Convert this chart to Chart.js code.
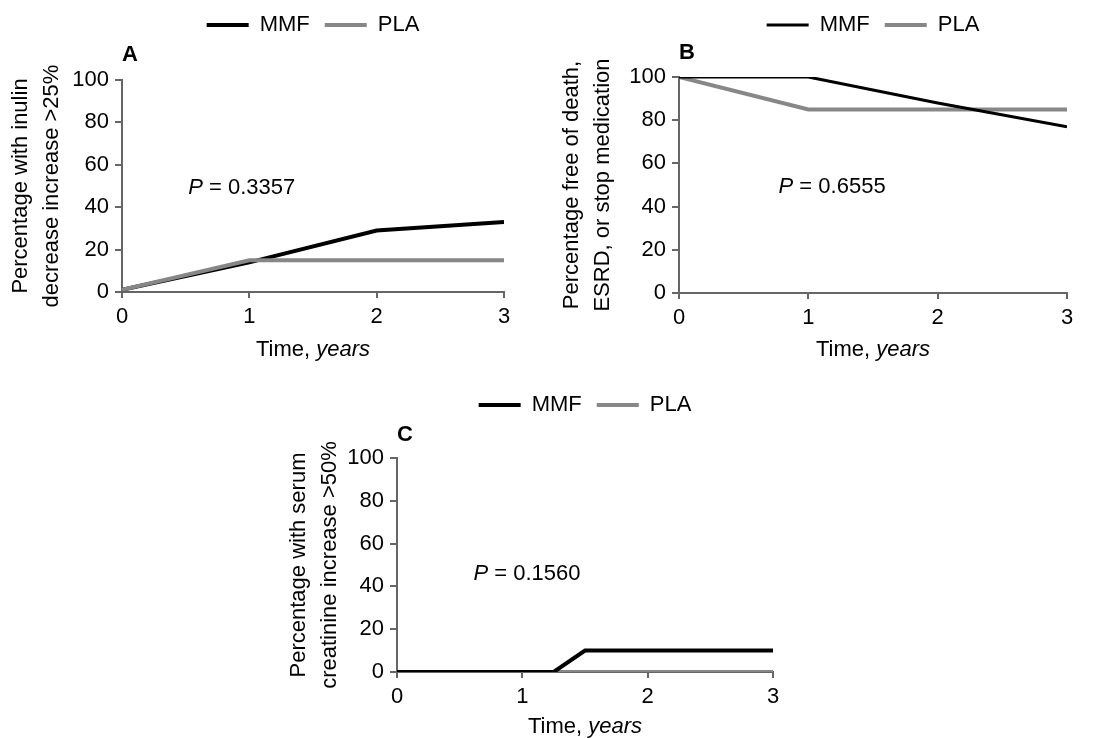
<!DOCTYPE html>
<html>
<head>
<meta charset="utf-8">
<script src="https://cdn.jsdelivr.net/npm/chart.js@4"></script>
<style>
  body { margin: 0; background: #fff; width: 1095px; height: 738px; overflow: hidden; position: relative; }
  canvas { position: absolute; }
</style>
</head>
<body>
<canvas id="chartA"></canvas>
<canvas id="chartB"></canvas>
<canvas id="chartC"></canvas>
<script>
// values
const years = [0, 1, 2, 3];
const mmfA = [1, 14, 29, 33];
const plaA = [1, 15, 15, 15];
const mmfB = [100, 100, 88, 77];
const plaB = [100, 85, 85, 85];
const timeC = [0, 1.25, 1.5, 3];
const mmfC = [0, 0, 10, 10];
const plaC = [0, 0, 0, 0];
const seriesNames = ["MMF", "PLA"];
const pValues = ["0.3357", "0.6555", "0.1560"];

Chart.defaults.font.family = '"Liberation Sans", Arial, sans-serif';
Chart.defaults.color = "#000";

const axisGrey = "#666666";
const black = "#000000";
const grey = "#878787";
const fontName = '"Liberation Sans"';

const xy = (xs, ys) => xs.map((x, i) => ({ x: x, y: ys[i] }));

// "P = ..." note at a data position, and the x title with italic "years"
const textPlugin = {
    id: "notes",
    afterDatasetsDraw(chart, args, opts) {
        const ctx = chart.ctx;
        const x = chart.scales.x.getPixelForValue(opts.x);
        const y = chart.scales.y.getPixelForValue(opts.y);
        ctx.save();
        ctx.fillStyle = "#000";
        ctx.textBaseline = "middle";
        ctx.font = "italic 22px " + fontName;
        ctx.fillText("P", x, y);
        let w = ctx.measureText("P").width;
        ctx.font = "22px " + fontName;
        ctx.fillText(" = " + opts.value, x + w, y);

        // x axis title
        const area = chart.chartArea;
        const ty = chart.scales.x.bottom - 13.2;
        ctx.font = "22px " + fontName;
        const w1 = ctx.measureText("Time, ").width;
        ctx.font = "italic 22px " + fontName;
        const w2 = ctx.measureText("years").width;
        const tx = (area.left + area.right) / 2 - (w1 + w2) / 2;
        ctx.font = "22px " + fontName;
        ctx.fillText("Time, ", tx, ty);
        ctx.font = "italic 22px " + fontName;
        ctx.fillText("years", tx + w1, ty);
        ctx.restore();
    },
};

function makeChart(id, box, letter, yTitle, datasets, note) {
    const canvas = document.getElementById(id);
    canvas.width = box.width;
    canvas.height = box.height;
    canvas.style.left = box.left + "px";
    canvas.style.top = box.top + "px";

    return new Chart(canvas, {
        type: "line",
        data: { datasets: datasets },
        options: {
            responsive: false,
            animation: false,
            devicePixelRatio: 1,
            layout: { padding: { left: 0, right: box.right, top: 0, bottom: 0 } },
            elements: { point: { radius: 0 }, line: { tension: 0 } },
            plugins: {
                tooltip: { enabled: false },
                legend: {
                    position: "top",
                    fullSize: false,
                    labels: {
                        usePointStyle: true,
                        pointStyle: "line",
                        pointStyleWidth: 42,
                        padding: 15,
                        font: { size: 22 },
                        sort: (a, b) => a.datasetIndex - b.datasetIndex,
                    },
                },
                title: {
                    display: true,
                    text: letter,
                    align: "start",
                    fullSize: false,
                    weight: 500,
                    color: "#000",
                    font: { size: 22, weight: "bold", lineHeight: 1 },
                    padding: box.titlePad,
                },
                notes: note,
            },
            scales: {
                x: {
                    type: "linear",
                    min: 0,
                    max: 3,
                    ticks: { stepSize: 1, padding: 6, font: { size: 22 }, color: "#000" },
                    grid: { drawOnChartArea: false, drawTicks: true, tickLength: 6, color: axisGrey, lineWidth: 2 },
                    border: { color: axisGrey, width: 2 },
                    title: { display: false },
                    afterFit: (s) => { s.height = box.xHeight; },
                },
                y: {
                    min: 0,
                    max: 100,
                    ticks: { stepSize: 20, padding: 6, font: { size: 22 }, color: "#000" },
                    grid: { drawOnChartArea: false, drawTicks: true, tickLength: 7, color: axisGrey, lineWidth: 2 },
                    border: { color: axisGrey, width: 2 },
                    title: {
                        display: true,
                        text: yTitle,
                        font: { size: 22, lineHeight: 1.41 },
                        padding: { top: box.yTitleTop, bottom: 0 },
                    },
                    afterFit: (s) => { s.width = box.yWidth; },
                },
            },
        },
        plugins: [textPlugin],
    });
}

makeChart(
    "chartA",
    { left: 0, top: -1, width: 530, height: 364, right: 26, yWidth: 122, xHeight: 71, titlePad: { top: -2, bottom: 14 }, yTitleTop: 5 },
    "A",
    ["Percentage with inulin", "decrease increase >25%"],
    [
        { label: seriesNames[0], data: xy(years, mmfA), borderColor: black, backgroundColor: black, borderWidth: 4, order: 1 },
        { label: seriesNames[1], data: xy(years, plaA), borderColor: grey, backgroundColor: grey, borderWidth: 4, order: 0 },
    ],
    { x: 0.52, y: 49, value: pValues[0] }
);

makeChart(
    "chartB",
    { left: 550, top: -1, width: 545, height: 364, right: 28, yWidth: 129, xHeight: 70, titlePad: { top: -4, bottom: 13 }, yTitleTop: 6 },
    "B",
    ["Percentage free of death,", "ESRD, or stop medication"],
    [
        { label: seriesNames[0], data: xy(years, mmfB), borderColor: black, backgroundColor: black, borderWidth: 3, order: 0 },
        { label: seriesNames[1], data: xy(years, plaB), borderColor: grey, backgroundColor: grey, borderWidth: 4, order: 1 },
    ],
    { x: 0.77, y: 49, value: pValues[1] }
);

makeChart(
    "chartC",
    { left: 270, top: 379, width: 530, height: 361, right: 27, yWidth: 127, xHeight: 68, titlePad: { top: -2, bottom: 12 }, yTitleTop: 13 },
    "C",
    ["Percentage with serum", "creatinine increase >50%"],
    [
        { label: seriesNames[0], data: xy(timeC, mmfC), borderColor: black, backgroundColor: black, borderWidth: 4, order: 0 },
        { label: seriesNames[1], data: xy(years, plaC), borderColor: grey, backgroundColor: grey, borderWidth: 4, order: 1 },
    ],
    { x: 0.61, y: 46, value: pValues[2] }
);
</script>
</body>
</html>
